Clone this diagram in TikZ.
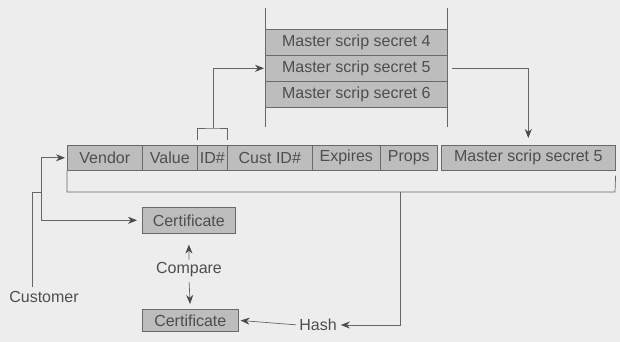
\documentclass[tikz,border=0pt]{standalone}
\usepackage{fontspec}
\setmainfont{Liberation Sans}
\usetikzlibrary{arrows.meta}
\definecolor{bgc}{HTML}{EDEDED}
\definecolor{boxfill}{HTML}{BDBDBD}
\definecolor{boxline}{HTML}{6A6A6A}
\definecolor{txt}{HTML}{4E4E4E}
\definecolor{wire}{HTML}{666666}
\definecolor{tip}{HTML}{4A4A4A}
\begin{document}
\begin{tikzpicture}[x=1pt,y=-1pt,
  font=\fontsize{16}{19}\selectfont,
  cell/.style={draw=boxline, fill=boxfill, text=txt, inner sep=0pt,
    line width=0.6pt, anchor=north west, minimum height=25pt},
  srow/.style={cell, minimum width=182pt, minimum height=26pt},
  wire/.style={draw=wire, line width=0.7pt},
  arr/.style={wire, -{Stealth[length=9pt,width=7pt,color=tip,fill=tip]}},
  lbl/.style={text=txt, inner sep=1pt}]
\useasboundingbox (0,0) rectangle (620,342);
\fill[bgc] (0,0) rectangle (620,342);

% master scrip stack
\coordinate (sl1) at (265,8);  \coordinate (sl2) at (265,127);
\coordinate (sr1) at (447,8);  \coordinate (sr2) at (447,127);
\draw[wire, line width=0.6pt] (sl1) -- (sl2);
\draw[wire, line width=0.6pt] (sr1) -- (sr2);
\node[srow] (r4) at (265,29) {Master scrip secret 4};
\node[srow] (r5) at (265,55) {Master scrip secret 5};
\node[srow] (r6) at (265,81) {Master scrip secret 6};

% certificate row
\node[cell, minimum width=75pt] (ven) at (67,145) {Vendor};
\node[cell, minimum width=55pt] (val) at (142,145) {Value};
\node[cell, minimum width=30pt] (idn) at (197,145) {ID\#};
\node[cell, minimum width=85pt] (cid) at (227,145) {Cust ID\#};
\node[cell, minimum width=68pt] (exp) at (312,145) {Expires};
\node[cell, minimum width=57pt] (prp) at (380,145) {Props};
\node[cell, minimum width=174pt] (ms5) at (441,145) {Master scrip secret 5};

% lower part
\node[cell, minimum width=93pt, minimum height=26pt] (c1) at (142,207) {Certificate};
\node[cell, minimum width=96pt, minimum height=22pt] (c2) at (142,309) {Certificate};
\node[lbl] (cmp) at (189,270) {Compare};
\node[lbl] (hash) at (318,325) {Hash};
\node[lbl] (cust) at (44,297) {Customer};

% bracket over ID#
\coordinate (bt) at (213,128);
\draw[wire] ([yshift=5pt]idn.north west) |- (bt) -| ([yshift=5pt]idn.north east);
\draw[arr, shorten >=1pt] (bt) |- (r5.west);
\draw[arr, shorten <=4pt, shorten >=7pt] (r5.east) -| (ms5.north);

% bracket under row
\coordinate (bl) at (67,192);
\coordinate (br) at (615,192);
\coordinate (bs) at (400,192);
\draw[wire] (ven.south west) -- (bl) -- (br) -- ([yshift=-5pt]ms5.south east);
\draw[arr, shorten >=3pt] (bs) |- (hash.east);
\draw[arr, shorten <=2pt, shorten >=2pt] (hash.west) -- (c2.east);

% customer
\coordinate (j1) at (32,192);
\coordinate (j2) at (41,192);
\draw[wire] ([yshift=3pt]j1 |- cust.north) -- (j1) -- (j2);
\draw[arr, shorten >=2pt] (j2) |- (ven.west);
\draw[arr, shorten >=5pt] (j2) |- (c1.west);

% compare
\draw[arr, shorten <=2pt, shorten >=11pt] (cmp.north) -- (c1.south);
\draw[arr, shorten <=4pt, shorten >=5pt] (cmp.south) -- (c2.north);
\end{tikzpicture}
\end{document}
